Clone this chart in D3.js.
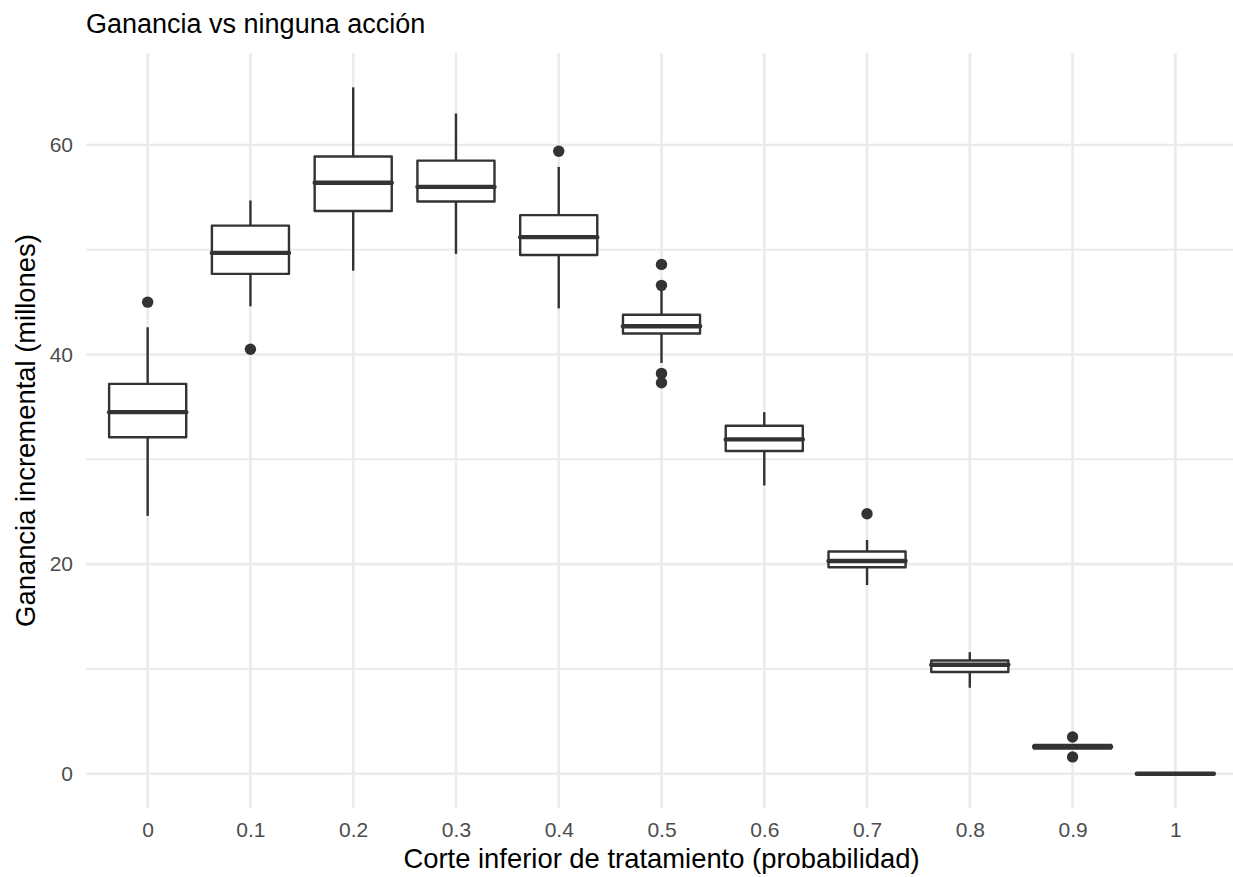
<!DOCTYPE html>
<html>
<head>
<meta charset="utf-8">
<script src="https://cdn.jsdelivr.net/npm/d3@7"></script>
<style>
  body { margin: 0; background: #fff; }
  text { font-family: "Liberation Sans", Arial, sans-serif; }
</style>
</head>
<body>
<div id="chart"></div>
<script>
// --------------------------------------
//  Data
// --------------------------------------

const cutoffs    = ["0", "0.1", "0.2", "0.3", "0.4", "0.5", "0.6", "0.7", "0.8", "0.9", "1"];
const whiskerLow = [24.6, 44.6, 48.0, 49.6, 44.4, 39.2, 27.5, 18.0, 8.2, 2.35, 0];
const q1         = [32.1, 47.7, 53.7, 54.6, 49.5, 42.0, 30.8, 19.7, 9.7, 2.4, 0];
const median     = [34.5, 49.7, 56.4, 56.0, 51.2, 42.7, 31.9, 20.3, 10.4, 2.58, 0];
const q3         = [37.2, 52.3, 58.9, 58.5, 53.3, 43.8, 33.2, 21.2, 10.8, 2.75, 0];
const whiskerHigh= [42.6, 54.7, 65.5, 63.0, 57.9, 46.2, 34.5, 22.3, 11.6, 2.8, 0];
const outliers   = [[45.0], [40.5], [], [], [59.4], [48.6, 46.6, 38.2, 37.3], [], [24.8], [], [3.5, 1.6], []];

const yTicks = [0, 20, 40, 60];
const yMinor = [10, 30, 50];

const boxes = cutoffs.map((c, i) => ({
  cut: c, lo: whiskerLow[i], q1: q1[i], med: median[i], q3: q3[i], hi: whiskerHigh[i], out: outliers[i]
}));

// --------------------------------------
//  Margin and canvas
// --------------------------------------

const width = 1233;
const height = 877;
const margin = {top: 53, right: -4, bottom: 69, left: 86};
const innerwidth = width - margin.left - margin.right;
const innerheight = height - margin.top - margin.bottom;

const ink = "#333333";

const svg = d3.select("#chart")
  .append("svg")
    .attr("width", width)
    .attr("height", height)
    .attr("viewBox", `0, 0, ${width}, ${height}`);

const innerChart = svg.append("g")
    .attr("transform", `translate(${margin.left}, ${margin.top})`);

// --------------------------------------
//  Scales
// --------------------------------------

const x = d3.scalePoint()
    .domain(cutoffs)
    .range([0, innerwidth])
    .padding(0.6);

const yMax = d3.max(whiskerHigh);
const pad = yMax * 0.05;
const y = d3.scaleLinear()
    .domain([0 - pad, yMax + pad])
    .range([innerheight, 0]);

const boxW = x.step() * 0.75;

// --------------------------------------
//  Grid
// --------------------------------------

innerChart.append("g")
  .selectAll("line")
  .data(yMinor)
  .join("line")
    .attr("x1", 0).attr("x2", innerwidth)
    .attr("y1", d => y(d)).attr("y2", d => y(d))
    .attr("stroke", "#EBEBEB")
    .attr("stroke-width", 2);

innerChart.append("g")
  .selectAll("line")
  .data(yTicks)
  .join("line")
    .attr("x1", 0).attr("x2", innerwidth)
    .attr("y1", d => y(d)).attr("y2", d => y(d))
    .attr("stroke", "#EBEBEB")
    .attr("stroke-width", 2.6);

innerChart.append("g")
  .selectAll("line")
  .data(cutoffs)
  .join("line")
    .attr("x1", d => x(d)).attr("x2", d => x(d))
    .attr("y1", 0).attr("y2", innerheight)
    .attr("stroke", "#EBEBEB")
    .attr("stroke-width", 2.6);

// --------------------------------------
//  Axes
// --------------------------------------

innerChart.append("g")
    .attr("class", "y-axis")
    .call(d3.axisLeft(y).tickValues(yTicks).tickSize(0).tickPadding(13))
    .call(g => g.select(".domain").remove())
    .selectAll("text")
      .attr("fill", "#4D4D4D")
      .style("font-size", "21px")
      .style("font-family", "Liberation Sans, Arial, sans-serif");

innerChart.append("g")
    .attr("class", "x-axis")
    .attr("transform", `translate(0, ${innerheight})`)
    .call(d3.axisBottom(x).tickSize(0).tickPadding(14))
    .call(g => g.select(".domain").remove())
    .selectAll("text")
      .attr("fill", "#4D4D4D")
      .style("font-size", "21px")
      .style("font-family", "Liberation Sans, Arial, sans-serif");

// --------------------------------------
//  Boxes
// --------------------------------------

const box = innerChart.append("g")
  .selectAll("g")
  .data(boxes)
  .join("g")
    .attr("transform", d => `translate(${x(d.cut)}, 0)`);

box.append("line")
    .attr("y1", d => y(d.q3)).attr("y2", d => y(d.hi))
    .attr("stroke", ink).attr("stroke-width", 2.4);

box.append("line")
    .attr("y1", d => y(d.q1)).attr("y2", d => y(d.lo))
    .attr("stroke", ink).attr("stroke-width", 2.4);

box.append("rect")
    .attr("x", -boxW / 2)
    .attr("width", boxW)
    .attr("y", d => y(d.q3))
    .attr("height", d => y(d.q1) - y(d.q3))
    .attr("fill", "#fff")
    .attr("stroke", ink)
    .attr("stroke-width", 2.4)
    .attr("stroke-linejoin", "round");

box.append("line")
    .attr("x1", -boxW / 2).attr("x2", boxW / 2)
    .attr("y1", d => y(d.med)).attr("y2", d => y(d.med))
    .attr("stroke", ink).attr("stroke-width", 4.4)
    .attr("stroke-linecap", "round");

box.selectAll("circle")
  .data(d => d.out)
  .join("circle")
    .attr("cy", d => y(d))
    .attr("r", 5.7)
    .attr("fill", ink);

// --------------------------------------
//  Titles
// --------------------------------------

svg.append("text")
    .attr("x", 86)
    .attr("y", 33)
    .attr("fill", "#000")
    .style("font-size", "27px")
    .text("Ganancia vs ninguna acción");

svg.append("text")
    .attr("x", margin.left + innerwidth / 2)
    .attr("y", 868)
    .attr("text-anchor", "middle")
    .attr("fill", "#000")
    .style("font-size", "27.4px")
    .text("Corte inferior de tratamiento (probabilidad)");

svg.append("text")
    .attr("transform", `translate(35, ${margin.top + innerheight / 2}) rotate(-90)`)
    .attr("text-anchor", "middle")
    .attr("fill", "#000")
    .style("font-size", "27.4px")
    .text("Ganancia incremental (millones)");
</script>
</body>
</html>
